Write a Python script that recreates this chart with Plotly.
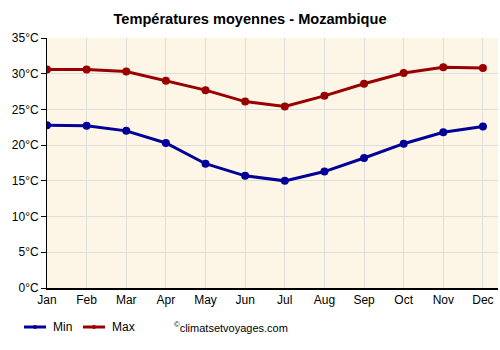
import plotly.graph_objects as go

months = ["Jan", "Feb", "Mar", "Apr", "May", "Jun", "Jul", "Aug", "Sep", "Oct", "Nov", "Dec"]
t_min = [22.8, 22.7, 22.0, 20.3, 17.4, 15.7, 15.0, 16.3, 18.2, 20.2, 21.8, 22.6]
t_max = [30.6, 30.6, 30.3, 29.0, 27.7, 26.1, 25.4, 26.9, 28.6, 30.1, 30.9, 30.8]
y_ticks = [0, 5, 10, 15, 20, 25, 30, 35]
y_labels = [f"{v}°C" for v in y_ticks]

series = [("Min", t_min, "#000099"), ("Max", t_max, "#990000")]

W, H = 500, 350
L, R, T, B = 47, 2, 38, 62

idx = list(range(len(months)))
fig = go.Figure()
for name, vals, col in series:
    fig.add_trace(go.Scatter(x=idx, y=vals, name=name, mode="lines+markers", showlegend=False,
                             line=dict(color=col, width=3), marker=dict(size=8, color=col)))

fig.update_layout(
    width=W, height=H,
    margin=dict(l=L, r=R, t=T, b=B, autoexpand=False),
    paper_bgcolor="white", plot_bgcolor="#FDF5E6",
    font=dict(family="Liberation Sans, Arial, sans-serif", size=12, color="black"),
    title=dict(text="<b>Températures moyennes - Mozambique</b>", x=0.5, xanchor="center", xref="container",
               y=0.945, yanchor="middle", font=dict(size=14.6)),
    showlegend=False,
    xaxis=dict(range=[0, 11.38], tickmode="array", tickvals=idx, ticktext=months,
               showgrid=True, gridcolor="#DDDDDD", gridwidth=1, showline=True,
               linecolor="black", linewidth=2, ticks="", zeroline=False, fixedrange=True,
               automargin=False),
    yaxis=dict(range=[0, 35], tickmode="array", tickvals=y_ticks, ticktext=y_labels,
               showgrid=True, gridcolor="#DDDDDD", gridwidth=1, showline=True,
               linecolor="black", linewidth=1, ticks="outside", ticklen=5,
               tickcolor="black", zeroline=False, fixedrange=True, automargin=False),
)

pw, ph = W - L - R, H - T - B
def px(x):
    return (x - L) / pw
def py(y):
    return (H - B - y) / ph

# custom legend
leg_y = 327
starts = [24, 83]
for (name, vals, col), x0 in zip(series, starts):
    fig.add_shape(type="line", xref="paper", yref="paper", x0=px(x0), x1=px(x0 + 22),
                  y0=py(leg_y), y1=py(leg_y), line=dict(color=col, width=3))
    fig.add_shape(type="circle", xref="paper", yref="paper", x0=px(x0 + 9), x1=px(x0 + 13),
                  y0=py(leg_y - 2), y1=py(leg_y + 2), line=dict(color=col, width=0), fillcolor=col)
    fig.add_annotation(text=name, xref="paper", yref="paper", x=px(x0 + 27), y=py(leg_y),
                       xanchor="left", yanchor="middle", showarrow=False,
                       font=dict(size=12, color="black"))

fig.add_annotation(text="<sup>©</sup>climatsetvoyages.com", xref="paper", yref="paper",
                   x=px(172), y=py(leg_y), xanchor="left", yanchor="middle",
                   showarrow=False, font=dict(size=11, color="black"))

fig.write_html("out.html")
